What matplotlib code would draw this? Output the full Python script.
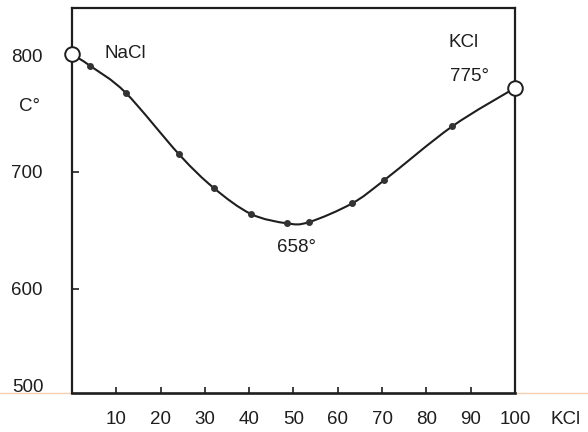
import numpy as np
import matplotlib
matplotlib.use("Agg")
from matplotlib import pyplot as plt
from matplotlib.path import Path
from matplotlib.patches import PathPatch
from matplotlib.lines import Line2D
import matplotlib.transforms as mtransforms

plt.rcParams['font.family'] = ['Liberation Sans', 'DejaVu Sans']

# liquidus of the NaCl-KCl system (% KCl, deg C)
kcl_pct = [0, 4.1, 12.1, 24.2, 32.1, 40.4, 48.5, 53.5, 63.2, 70.5, 85.8, 100]
temp_c  = [801, 791, 768, 715, 686, 664, 656, 657, 673, 693, 739, 772]

x_ticks = [10, 20, 30, 40, 50, 60, 70, 80, 90, 100]
y_ticks = [600, 700, 800]

ink = '#1e1e1e'
fs = 13.5

fig = plt.figure(figsize=(5.88, 4.32), dpi=100)
ax = fig.add_axes([0.1224, 0.0903, 0.7534, 0.8912])
ax.set_xlim(0, 100)
ax.set_ylim(510.5, 840.6)

# smooth curve through the points (catmull-rom -> cubic bezier)
x = np.array(kcl_pct, float)
y = np.array(temp_c, float)
px = np.concatenate([[x[0]], x, [x[-1]]])
py = np.concatenate([[y[0]], y, [y[-1]]])
verts = [(x[0], y[0])]
codes = [Path.MOVETO]
for i in range(1, len(px) - 2):
    c1 = (px[i] + (px[i+1] - px[i-1]) / 6, py[i] + (py[i+1] - py[i-1]) / 6)
    c2 = (px[i+1] - (px[i+2] - px[i]) / 6, py[i+1] - (py[i+2] - py[i]) / 6)
    verts += [c1, c2, (px[i+1], py[i+1])]
    codes += [Path.CURVE4] * 3
ax.add_patch(PathPatch(Path(verts, codes), fill=False, lw=1.5, color=ink, zorder=3))

ax.plot(x[1:-1], y[1:-1], 'o', ms=4, color='#333333', zorder=4)
ax.plot([x[0], x[-1]], [y[0], y[-1]], 'o', ms=10.5, mfc='white', mec=ink,
        mew=1.4, zorder=5, clip_on=False)

for s in ax.spines.values():
    s.set_linewidth(1.6)
    s.set_color(ink)
ax.spines['bottom'].set_linewidth(1.9)

ax.set_xticks(x_ticks)
ax.set_xticklabels([str(t) for t in x_ticks])
ax.set_yticks(y_ticks)
ax.set_yticklabels([str(t) for t in y_ticks])
ax.tick_params(axis='x', direction='in', length=4, width=1.2, pad=13,
               labelsize=fs, colors=ink)
ax.tick_params(axis='y', direction='in', length=5, width=1.2, pad=21,
               labelsize=fs, colors=ink)

blend = mtransforms.blended_transform_factory(ax.transAxes, ax.transData)
ax.text(-0.063, 515.6, '500', transform=blend, ha='right', va='center',
        fontsize=fs, color=ink)
ax.text(-0.097, 756, 'C°', transform=blend, ha='center', va='center',
        fontsize=fs, color=ink)
ax.text(111.5, 510.5, 'KCl', ha='center', va='top', fontsize=fs, color=ink,
        transform=ax.transData + mtransforms.ScaledTranslation(0, -13/72, fig.dpi_scale_trans),
        clip_on=False)

ax.text(12, 802, 'NaCl', ha='center', va='center', fontsize=fs, color=ink)
ax.text(88.3, 810.6, 'KCl', ha='center', va='center', fontsize=fs, color=ink)
ax.text(89.8, 781.5, '775°', ha='center', va='center', fontsize=fs, color=ink)
ax.text(50.6, 635, '658°', ha='center', va='center', fontsize=fs, color=ink)

# faint baseline from the scan
yb = 1 - 393 / 432
fig.add_artist(Line2D([0, 0.1224], [yb, yb], transform=fig.transFigure, color='#f6cfb2', lw=1.0, zorder=0))
fig.add_artist(Line2D([0.876, 1], [yb, yb], transform=fig.transFigure, color='#f6cfb2', lw=1.0, zorder=0))

fig.savefig('out.png', dpi=100)
